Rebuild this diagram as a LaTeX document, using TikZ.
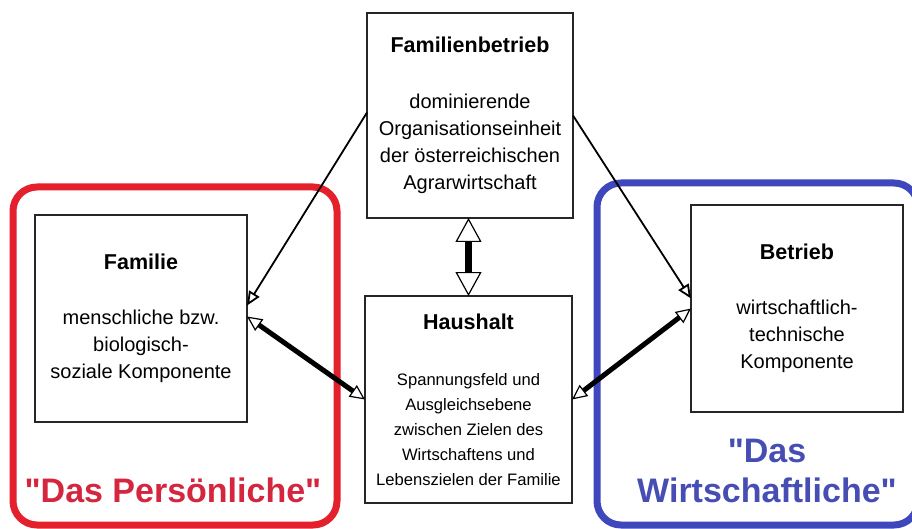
\documentclass[tikz,border=0pt]{standalone}
\usepackage{fontspec}
\setmainfont{Liberation Sans}
\usetikzlibrary{arrows.meta}
\definecolor{persred}{RGB}{228,32,44}
\definecolor{perstext}{RGB}{212,38,62}
\definecolor{wirtblue}{RGB}{62,72,188}
\definecolor{wirttext}{RGB}{70,78,180}
\newcommand{\boxtitle}[1]{{\fontsize{21.5}{27}\selectfont\bfseries #1}}
\newcommand{\qq}{\XeTeXglyph\XeTeXglyphindex "quotedbl"\relax}

\begin{document}
\begin{tikzpicture}[
  x=1pt, y=1pt,
  box/.style={draw=black!85, line width=1.2pt, inner sep=0pt, outer sep=0pt,
              align=center, font=\fontsize{20}{27}\selectfont},
  frame/.style={rounded corners=24pt, line width=7pt},
  biglabel/.style={align=center, font=\fontsize{34}{40}\selectfont\bfseries},
  thinarr/.style={-{Triangle[fill=white, length=14pt, width=12pt]}, line width=1.8pt},
  thickarr/.style={{Triangle[fill=white, length=15pt, width=14pt, line width=1.2pt]}-{Triangle[fill=white, length=15pt, width=14pt, line width=1.2pt]},
                   line width=5pt}
]
\clip (0,0) rectangle (912,528);
\fill[white] (0,0) rectangle (912,528);

% Rahmen
\draw[frame, persred] (13,3) rectangle (337,341);
\draw[frame, wirtblue] (597,3) rectangle (918,345);

\node[box, minimum width=206pt, minimum height=205pt] (fb) at (470,412.5)
  {\boxtitle{Familienbetrieb}\\[29pt]dominierende\\Organisationseinheit\\der österreichischen\\Agrarwirtschaft};
\node[box, minimum width=212pt, minimum height=207pt] (familie) at (141,209.5)
  {\boxtitle{Familie}\\[28pt]menschliche bzw.\\biologisch-\\soziale Komponente};
\node[box, minimum width=207pt, minimum height=207pt,
      font=\fontsize{16.6}{25}\selectfont] (haushalt) at (468.5,128.5)
  {\boxtitle{Haushalt}\\[31pt]Spannungsfeld und\\Ausgleichsebene\\zwischen Zielen des\\Wirtschaftens und\\Lebenszielen der Familie};
\node[box, minimum width=212pt, minimum height=207pt] (betrieb) at (797,219.5)
  {\boxtitle{Betrieb}\\[28pt]wirtschaftlich-\\technische\\Komponente};

\draw[thinarr] ([yshift=3pt]fb.west) -- ([yshift=13pt]familie.east);
\draw[thinarr] (fb.east) -- ([yshift=10pt]betrieb.west);
\draw[{Triangle[fill=white, length=24pt, width=26pt, line width=1.2pt]}-{Triangle[fill=white, length=24pt, width=26pt, line width=1.2pt]},
      line width=7pt] (haushalt.north |- fb.south) -- (haushalt.north);
\draw[thickarr] ([yshift=2pt]familie.east) -- (haushalt.west);
\draw[thickarr] (betrieb.west) -- (haushalt.east);

% Beschriftung
\node[biglabel, text=perstext, anchor=base] (perslabel) at (173,26) {\qq Das Persönliche\qq};
\node[biglabel, text=wirttext, anchor=base] (wirtlabel) at (767,26) {\qq Das\\Wirtschaftliche\qq};

\end{tikzpicture}
\end{document}
